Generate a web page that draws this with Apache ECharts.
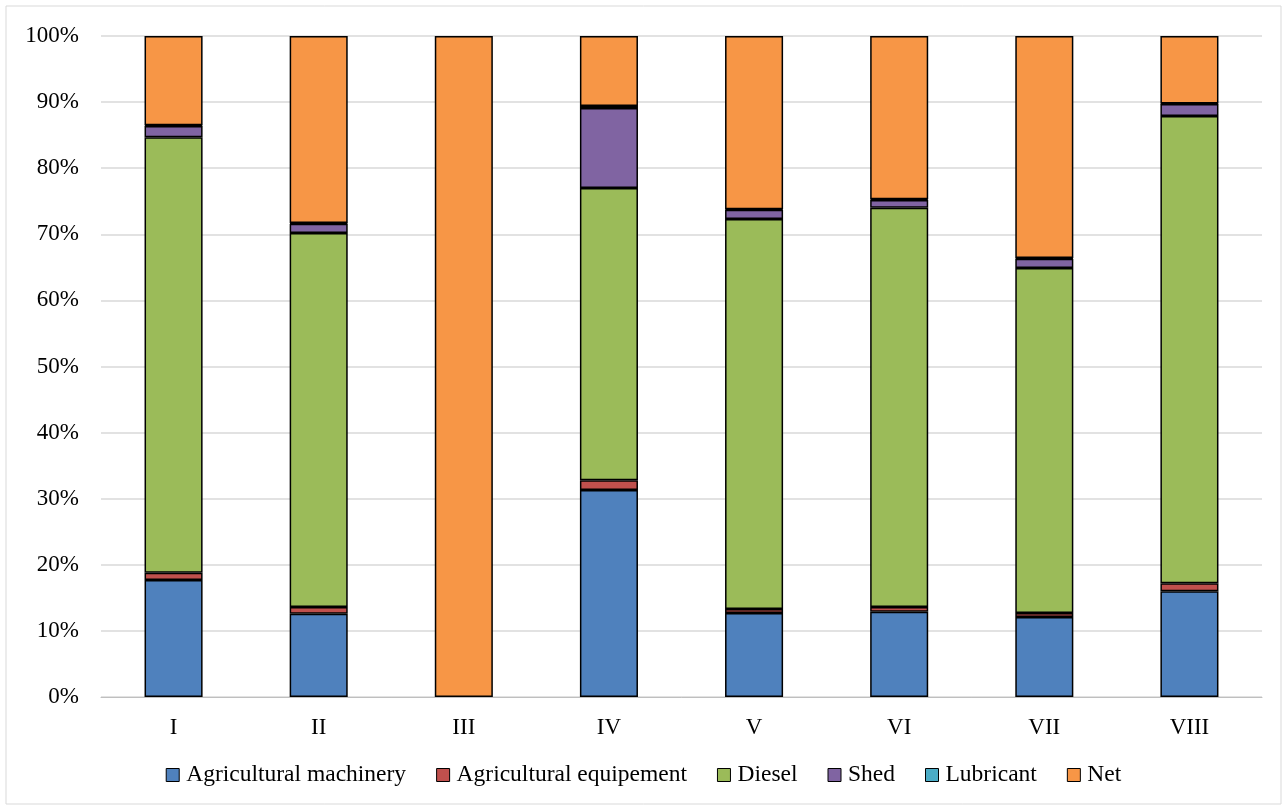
<!DOCTYPE html>
<html><head><meta charset="utf-8">
<script src="https://cdn.jsdelivr.net/npm/echarts@6/dist/echarts.min.js"></script>
<style>html,body{margin:0;padding:0;background:#fff}#c{width:1287px;height:810px}</style>
</head><body><div id="c"></div>
<script>
const categories = ['I','II','III','IV','V','VI','VII','VIII'];
const machinery = [17.7, 12.6, 0, 31.3, 12.7, 12.9, 12.1, 16.0];
const equipment = [1.1, 1.0, 0, 1.5, 0.6, 0.7, 0.6, 1.2];
const diesel = [65.9, 56.6, 0, 44.2, 59.0, 60.4, 52.2, 70.7];
const shed = [1.7, 1.4, 0, 12.1, 1.4, 1.2, 1.4, 1.8];
const lubricant = [0.1, 0.1, 0, 0.3, 0.1, 0.1, 0.1, 0.1];
const net = [13.5, 28.3, 100, 10.6, 26.2, 24.7, 33.6, 10.2];
const yTicks = [0,10,20,30,40,50,60,70,80,90,100];

const names = ['Agricultural machinery','Agricultural equipement','Diesel','Shed','Lubricant','Net'];
const colors = ['#4F81BD','#C0504D','#9BBB59','#8064A2','#4BACC6','#F79646'];
const datas = [machinery, equipment, diesel, shed, lubricant, net];

const chart = echarts.init(document.getElementById('c'));
const font = "'Liberation Serif', 'Times New Roman', serif";
chart.setOption({
  animation: false,
  graphic: [{type:'rect', shape:{x:6,y:6,width:1275,height:798}, style:{fill:'none', stroke:'#d9d9d9', lineWidth:1}, silent:true}],
  grid: {left: 101, right: 25, top: 36, bottom: 113},
  legend: {
    bottom: 18, left: 'center', itemWidth: 13, itemHeight: 13, itemGap: 30,
    icon: 'rect',
    textStyle: {fontFamily: font, fontSize: 23.5, color: '#000', padding: [0,0,0,2]},
    data: names.map((n,i)=>({name:n, itemStyle:{color:colors[i], borderColor:'#000', borderWidth:1}}))
  },
  xAxis: {
    type: 'category', data: categories,
    axisLine: {lineStyle: {color: '#bfbfbf', width: 1}},
    axisTick: {show: false},
    axisLabel: {fontFamily: font, fontSize: 23, color: '#000', margin: 19}
  },
  yAxis: {
    type: 'value', min: 0, max: 100, interval: 10,
    axisLine: {show: false}, axisTick: {show: false},
    splitLine: {lineStyle: {color: '#d9d9d9', width: 1.5}},
    axisLabel: {fontFamily: font, fontSize: 23, color: '#000', margin: 22,
      formatter: v => yTicks.includes(v) ? v + '%' : ''}
  },
  series: datas.map((d,i)=>({
    name: names[i], type: 'bar', stack: 'total', data: d.map(v => v === 0 ? null : v), barWidth: '40%',
    itemStyle: {color: colors[i], borderColor: '#000', borderWidth: 1.5}
  }))
});
</script></body></html>
